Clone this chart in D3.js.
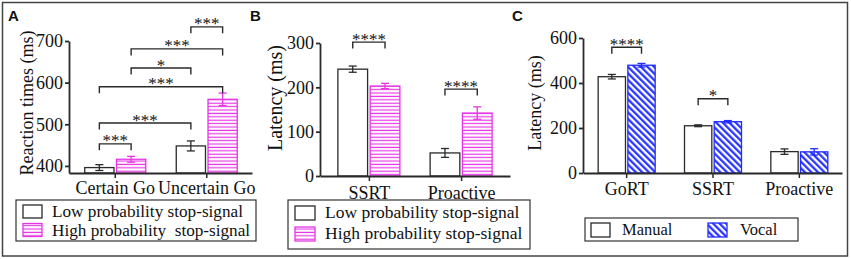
<!DOCTYPE html>
<html lang="en">
    <head>
        <meta charset="utf-8"/>
        <script src="https://d3js.org/d3.v7.min.js"></script>
        <style>
            body { margin: 0; background: #fff; }
            svg text { font-family: "Liberation Serif", "Times New Roman", serif; fill: #111; }
        </style>
    </head>
    <body>
        <div id="chart"></div>
    </body>
    <script>
        // panel A - reaction times
        var catsA = ["Certain Go", "Uncertain Go"];
        var lowA = [396, 448];
        var lowErrA = [7, 12];
        var highA = [416, 560];
        var highErrA = [7, 15];
        var ticksA = [400, 500, 600, 700];
        // brackets: [cat, series] -> [cat, series], top value, label
        var sigA = [
            [[0, 0], [0, 1], 453, "***"],
            [[0, 0], [1, 0], 503, "***"],
            [[0, 0], [1, 1], 590, "***"],
            [[0, 1], [1, 0], 635, "*"],
            [[0, 1], [1, 1], 681, "***"],
            [[1, 0], [1, 1], 734, "***"]
        ];

        // panel B - latency low / high probability
        var catsB = ["SSRT", "Proactive"];
        var lowB = [241, 52];
        var lowErrB = [7, 10];
        var highB = [203, 142];
        var highErrB = [6, 14];
        var ticksB = [0, 100, 200, 300];
        var sigB = [
            [[0, 0], [0, 1], 302, "****"],
            [[1, 0], [1, 1], 196, "****"]
        ];

        // panel C - manual vs vocal
        var catsC = ["GoRT", "SSRT", "Proactive"];
        var manualC = [428, 210, 95];
        var manualErrC = [10, 4, 12];
        var vocalC = [479, 228, 94];
        var vocalErrC = [8, 5, 14];
        var ticksC = [0, 200, 400, 600];
        var sigC = [
            [[0, 0], [0, 1], 559, "****"],
            [[1, 0], [1, 1], 330, "*"]
        ];

        var pink = "#e536e5";
        var blue = "#1f2bff";
        var dark = "#2a2a2a";
        var serif = "'Liberation Serif', 'Times New Roman', serif";

        var svg = d3.select("#chart")
            .append("svg")
                .attr("width", 851)
                .attr("height", 259)

        var defs = svg.append("defs");
        var hp = defs.append("pattern")
            .attr("id", "hstripe")
            .attr("patternUnits", "userSpaceOnUse")
            .attr("width", 6).attr("height", 3.4)
        hp.append("rect").attr("width", 6).attr("height", 3.4).attr("fill", "#fff")
        hp.append("line").attr("x1", 0).attr("x2", 6).attr("y1", 1.2).attr("y2", 1.2)
            .attr("stroke", pink).attr("stroke-width", 1.2)

        var dp = defs.append("pattern")
            .attr("id", "dstripe")
            .attr("patternUnits", "userSpaceOnUse")
            .attr("width", 4.6).attr("height", 10)
            .attr("patternTransform", "rotate(-45)")
        dp.append("rect").attr("width", 4.6).attr("height", 10).attr("fill", "#fff")
        dp.append("line").attr("x1", 1.2).attr("x2", 1.2).attr("y1", 0).attr("y2", 10)
            .attr("stroke", blue).attr("stroke-width", 2.2)

        // outer frame
        svg.append("rect")
            .attr("x", 2.5).attr("y", 2.5)
            .attr("width", 845).attr("height", 253.5)
            .attr("fill", "none").attr("stroke", "#444").attr("stroke-width", 1.5)

        function drawPanel(cfg) {
            var g = svg.append("g");

            var x = d3.scalePoint()
                .domain(cfg.cats)
                .range(cfg.xRange)
                .padding(cfg.pad)
            var x1 = d3.scaleBand()
                .domain([0, 1])
                .range(cfg.inner)
                .paddingInner(0.08)
            var y = d3.scaleLinear()
                .domain(cfg.yDomain)
                .range(cfg.yRange)

            function cx(ci, si) { return x(cfg.cats[ci]) + x1(si) + x1.bandwidth() / 2; }

            cfg.series.forEach(function (s, si) {
                var rows = s.values.map(function (v, i) { return {v: v, e: s.errs[i], c: cfg.cats[i]}; });
                g.selectAll(".bar-" + si)
                    .data(rows)
                    .enter()
                    .append("rect")
                        .attr("x", function (d) { return x(d.c) + x1(si); })
                        .attr("y", function (d) { return y(d.v); })
                        .attr("width", x1.bandwidth())
                        .attr("height", function (d) { return y(cfg.yDomain[0]) - y(d.v); })
                        .attr("fill", s.fill)
                        .attr("stroke", s.stroke)
                        .attr("stroke-width", 1.3)

                var eb = g.selectAll(".err-" + si)
                    .data(rows)
                    .enter()
                    .append("g")
                        .attr("stroke", s.stroke)
                        .attr("stroke-width", 1.3)
                eb.append("line")
                    .attr("x1", function (d, i) { return cx(i, si); })
                    .attr("x2", function (d, i) { return cx(i, si); })
                    .attr("y1", function (d) { return y(d.v - d.e); })
                    .attr("y2", function (d) { return y(d.v + d.e); })
                eb.selectAll("cap")
                    .data(function (d, i) { return [[d.v - d.e, i], [d.v + d.e, i]]; })
                    .enter()
                    .append("line")
                        .attr("x1", function (d) { return cx(d[1], si) - 4; })
                        .attr("x2", function (d) { return cx(d[1], si) + 4; })
                        .attr("y1", function (d) { return y(d[0]); })
                        .attr("y2", function (d) { return y(d[0]); })
            });

            // axes
            var yAxis = g.append("g")
                .attr("transform", "translate(" + cfg.xRange[0] + ",0)")
                .call(d3.axisLeft(y).tickValues(cfg.ticks).tickSize(4).tickSizeOuter(0).tickPadding(2))
            yAxis.attr("font-family", null).attr("font-size", null)
            yAxis.select(".domain").attr("stroke", dark).attr("stroke-width", 1.8)
            yAxis.selectAll(".tick line").attr("stroke", dark).attr("stroke-width", 1.8)
            yAxis.selectAll(".tick text")
                .style("font-family", serif)
                .style("font-size", "18px")
                .attr("fill", "#111")

            var xAxis = g.append("g")
                .attr("transform", "translate(0," + cfg.yRange[0] + ")")
                .call(d3.axisBottom(x).tickSize(5).tickSizeOuter(0))
            xAxis.attr("font-family", null).attr("font-size", null)
            xAxis.select(".domain").attr("stroke", dark).attr("stroke-width", 1.8)
            xAxis.selectAll(".tick line").attr("stroke", dark).attr("stroke-width", 1.5)
            xAxis.selectAll(".tick text")
                .attr("dy", null)
                .attr("y", cfg.labelY - cfg.yRange[0])
                .style("font-family", serif)
                .style("font-size", "18px")
                .attr("fill", "#111")

            // y label
            g.append("text")
                .attr("transform", "translate(" + cfg.yLabelPos[0] + "," + cfg.yLabelPos[1] + ") rotate(-90)")
                .attr("text-anchor", "middle")
                .attr("font-size", cfg.yLabelSize)
                .text(cfg.yLabel)

            // panel letter
            g.append("text")
                .attr("x", cfg.letterPos[0]).attr("y", cfg.letterPos[1])
                .style("font-family", "'Liberation Sans', Arial, sans-serif")
                .attr("font-weight", "bold")
                .attr("font-size", 15)
                .text(cfg.letter)

            // significance brackets
            cfg.sig.forEach(function (s) {
                var xa = cx(s[0][0], s[0][1]);
                var xb = cx(s[1][0], s[1][1]);
                var yt = y(s[2]);
                g.append("path")
                    .attr("d", "M" + xa + "," + (yt + 6.5) + "V" + yt + "H" + xb + "V" + (yt + 6.5))
                    .attr("fill", "none")
                    .attr("stroke", dark)
                    .attr("stroke-width", 1.4)
                g.append("text")
                    .attr("x", (xa + xb) / 2)
                    .attr("y", yt + 2.5)
                    .attr("text-anchor", "middle")
                    .attr("font-size", 17)
                    .text(s[3])
            });

            // legend
            var lg = g.append("g");
            lg.append("rect")
                .attr("x", cfg.legend.box[0]).attr("y", cfg.legend.box[1])
                .attr("width", cfg.legend.box[2]).attr("height", cfg.legend.box[3])
                .attr("fill", "#fff").attr("stroke", "#333").attr("stroke-width", 1.2)
            cfg.legend.items.forEach(function (it, i) {
                var s = cfg.series[i];
                lg.append("rect")
                    .attr("x", it.sx).attr("y", it.sy)
                    .attr("width", cfg.legend.sw[0]).attr("height", cfg.legend.sw[1])
                    .attr("fill", s.fill).attr("stroke", s.stroke).attr("stroke-width", 1.3)
                lg.append("text")
                    .attr("x", it.tx).attr("y", it.ty)
                    .attr("font-size", cfg.legend.size)
                    .style("white-space", "pre")
                    .text(s.name)
            });
        }

        var lowName = "Low probability stop-signal";
        var highName = "High probability  stop-signal";

        drawPanel({
            letter: "A", letterPos: [8, 21],
            cats: catsA, xRange: [69, 252], pad: 0.5, inner: [-30, 31],
            yDomain: [383, 700], yRange: [173, 41], ticks: ticksA,
            labelY: 194,
            yLabel: "Reaction times (ms)", yLabelPos: [33, 103], yLabelSize: 18,
            series: [
                {name: lowName, values: lowA, errs: lowErrA, fill: "#fff", stroke: dark},
                {name: highName, values: highA, errs: highErrA, fill: "url(#hstripe)", stroke: pink}
            ],
            sig: sigA,
            legend: {
                box: [16, 200, 240, 41], sw: [19, 13], size: 17.2,
                items: [{sx: 23, sy: 205, tx: 52, ty: 217}, {sx: 23, sy: 223.5, tx: 52, ty: 236}]
            }
        });

        drawPanel({
            letter: "B", letterPos: [250, 21],
            cats: catsB, xRange: [320, 510], pad: 0.53, inner: [-31, 31],
            yDomain: [0, 300], yRange: [176, 43], ticks: ticksB,
            labelY: 199,
            yLabel: "Latency (ms)", yLabelPos: [282, 98], yLabelSize: 20,
            series: [
                {name: lowName, values: lowB, errs: lowErrB, fill: "#fff", stroke: dark},
                {name: highName.replace("  ", " "), values: highB, errs: highErrB, fill: "url(#hstripe)", stroke: pink}
            ],
            sig: sigB,
            legend: {
                box: [288, 200, 242, 49], sw: [20, 14], size: 17.5,
                items: [{sx: 295, sy: 206, tx: 325, ty: 218}, {sx: 295, sy: 227, tx: 325, ty: 239}]
            }
        });

        drawPanel({
            letter: "C", letterPos: [512, 21],
            cats: catsC, xRange: [583, 842], pad: 0.5, inner: [-28, 29],
            yDomain: [0, 600], yRange: [173, 38], ticks: ticksC,
            labelY: 195,
            yLabel: "Latency (ms)", yLabelPos: [541, 103], yLabelSize: 18,
            series: [
                {name: "Manual", values: manualC, errs: manualErrC, fill: "#fff", stroke: dark},
                {name: "Vocal", values: vocalC, errs: vocalErrC, fill: "url(#dstripe)", stroke: blue}
            ],
            sig: sigC,
            legend: {
                box: [585, 218, 213, 23], sw: [19, 14], size: 16.5,
                items: [{sx: 591, sy: 223, tx: 622, ty: 235}, {sx: 708, sy: 223, tx: 740, ty: 235}]
            }
        });
    </script>
</html>
